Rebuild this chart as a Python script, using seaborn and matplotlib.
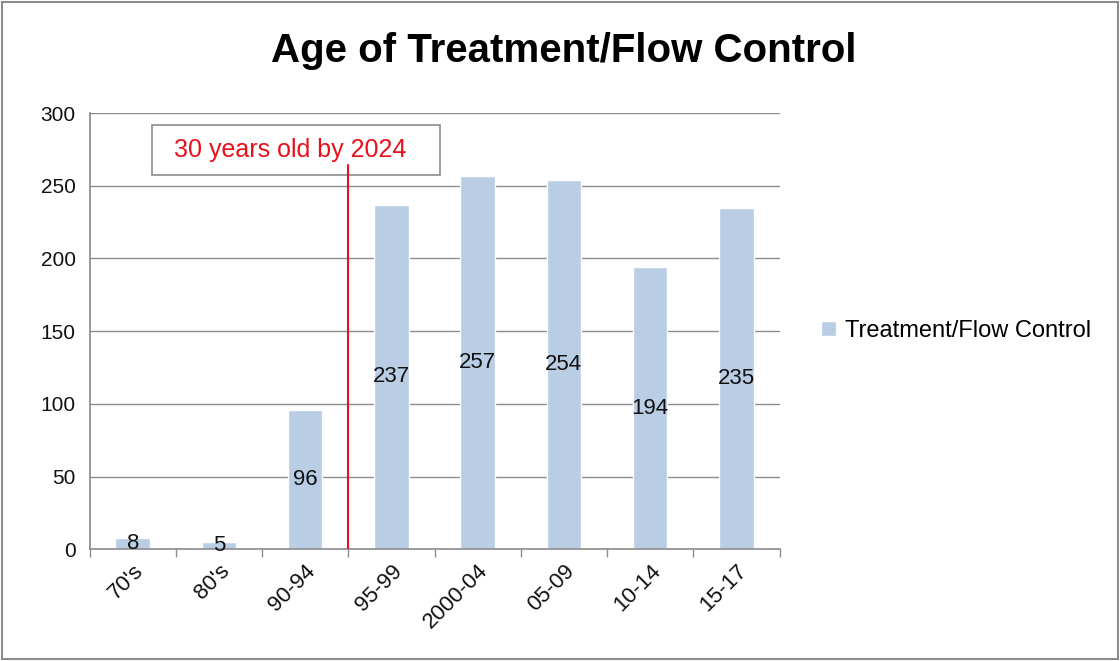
import matplotlib
matplotlib.use("Agg")
import matplotlib.pyplot as plt
import seaborn as sns
import pandas as pd

# data
periods = ["70's", "80's", "90-94", "95-99", "2000-04", "05-09", "10-14", "15-17"]
counts = [8, 5, 96, 237, 257, 254, 194, 235]
series_name = "Treatment/Flow Control"
marker_text = "30 years old by 2024"
marker_pos = 2.5   # between 90-94 and 95-99
marker_top = 264

df = pd.DataFrame({"Period": periods, "Count": counts})

sns.set_theme(style="white")
plt.rcParams['font.family'] = ['Liberation Sans', 'DejaVu Sans']
plt.rcParams['text.color'] = "black"

fig = plt.figure(figsize=(11.2, 6.61), dpi=100)
ax = fig.add_axes([0.080, 0.169, 0.616, 0.660])

bar_color = "#b9cde5"
sns.barplot(data=df, x="Period", y="Count", color=bar_color, width=0.4,
            saturation=1, ax=ax, label=series_name)

# value labels in the middle of each bar
ax.bar_label(ax.containers[0], labels=[str(c) for c in counts],
             label_type="center", fontsize=16, color="#111111")

ax.set_xlim(-0.5, len(periods) - 0.5)
ax.set_ylim(0, 300)
ax.set_yticks(range(0, 301, 50))
ax.yaxis.grid(True, color="#8c8c8c", linewidth=1)
ax.set_axisbelow(True)
ax.set_xlabel("")
ax.set_ylabel("")

for side in ["top", "right"]:
    ax.spines[side].set_visible(False)
ax.spines["left"].set_color("#8c8c8c")
ax.spines["bottom"].set_color("#8c8c8c")
ax.spines["bottom"].set_linewidth(1.2)

# ticks at the category boundaries on x
ax.set_xticks([i - 0.5 for i in range(len(periods) + 1)], minor=True)
ax.tick_params(axis="x", which="minor", length=6, color="#8c8c8c", direction="out", bottom=True)
ax.tick_params(axis="x", which="major", length=0, labelsize=16, pad=8, labelcolor="#111111")
ax.tick_params(axis="y", length=0, labelsize=15, pad=10, labelcolor="#111111")
plt.setp(ax.get_xticklabels(), rotation=45, ha="right", rotation_mode="anchor")

# red marker line and its label box
ax.add_patch(plt.Rectangle((0.22, 257.5), 3.34, 34.5, facecolor="white",
                           edgecolor="#8c8c8c", linewidth=1.2, zorder=3))
ax.plot([marker_pos, marker_pos], [0, marker_top], color="#e8101a", linewidth=1.5, zorder=4)
ax.text(1.83, 274.5, marker_text, color="#e8101a", fontsize=18, ha="center", va="center",
        zorder=5)

fig.suptitle("Age of Treatment/Flow Control", x=0.503, y=0.952, fontsize=29,
             fontweight="bold", color="black")

ax.legend(loc="center left", bbox_to_anchor=(1.03, 0.5), frameon=False,
          fontsize=17, handlelength=0.6, handleheight=0.6, handletextpad=0.4)

# thin grey frame around the whole picture
fig.patches.append(plt.Rectangle((0.002, 0.003), 0.996, 0.994, transform=fig.transFigure,
                                 fill=False, edgecolor="#8c8c8c", linewidth=1.5))

fig.savefig("out.png", dpi=100)
